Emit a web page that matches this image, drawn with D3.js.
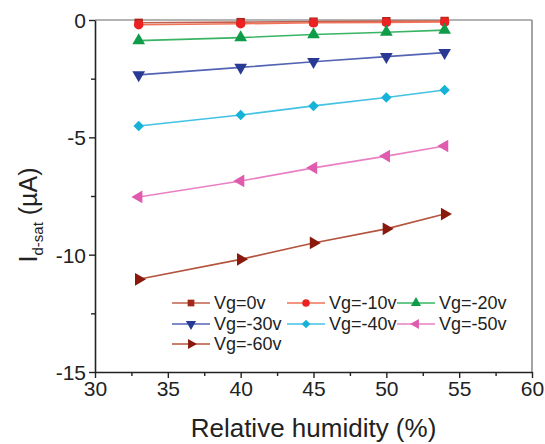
<!DOCTYPE html>
<html>
<head>
<meta charset="utf-8">
<script src="https://cdn.jsdelivr.net/npm/d3@7"></script>
<style>
  body { margin: 0; background: #fff; }
  text { font-family: "Liberation Sans", Arial, sans-serif; }
</style>
</head>
<body>
<svg id="chart" width="545" height="444"></svg>
<script>
// humidity points
const humidity = [33, 40, 45, 50, 54];

// Id-sat (uA) per gate voltage
const vg0 = [-0.12, -0.09, -0.07, -0.05, -0.04];
const vg10 = [-0.2, -0.16, -0.12, -0.1, -0.08];
const vg20 = [-0.88, -0.75, -0.62, -0.52, -0.43];
const vg30 = [-2.34, -2.02, -1.78, -1.56, -1.39];
const vg40 = [-4.52, -4.05, -3.66, -3.3, -2.98];
const vg50 = [-7.54, -6.86, -6.3, -5.8, -5.37];
const vg60 = [-11.05, -10.2, -9.5, -8.9, -8.27];

const seriesNames = ["Vg=0v", "Vg=-10v", "Vg=-20v", "Vg=-30v", "Vg=-40v", "Vg=-50v", "Vg=-60v"];
const xTicks = [30, 35, 40, 45, 50, 55, 60];
const yTicks = [0, -5, -10, -15];

const series = [
  { name: seriesNames[0], values: vg0, marker: "#a3281c", line: "#c0604c", shape: "square" },
  { name: seriesNames[1], values: vg10, marker: "#ec2222", line: "#f07258", shape: "circle" },
  { name: seriesNames[2], values: vg20, marker: "#0e9c48", line: "#38b464", shape: "up" },
  { name: seriesNames[3], values: vg30, marker: "#283a94", line: "#5464b4", shape: "down" },
  { name: seriesNames[4], values: vg40, marker: "#16b2d8", line: "#44c2e4", shape: "diamond" },
  { name: seriesNames[5], values: vg50, marker: "#e05aae", line: "#ea80c4", shape: "left" },
  { name: seriesNames[6], values: vg60, marker: "#8a180c", line: "#b4543e", shape: "right" }
];

const margin = { top: 20, right: 13, bottom: 72, left: 95 };
const width = 545 - margin.left - margin.right,
  height = 444 - margin.top - margin.bottom;

const svg = d3.select("#chart");
const g = svg.append("g").attr("transform", `translate(${margin.left},${margin.top})`);

const x = d3.scaleLinear().domain([30, 60]).range([0, width]);
const y = d3.scaleLinear().domain([-15, 0]).range([height, 0]);

// frame on top and right
g.append("line").attr("x1", 0).attr("x2", width).attr("y1", 0).attr("y2", 0)
  .attr("stroke", "#9a9a9a").attr("stroke-width", 1.6);
g.append("line").attr("x1", width).attr("x2", width).attr("y1", 0).attr("y2", height)
  .attr("stroke", "#9a9a9a").attr("stroke-width", 1.8);

// minor ticks
const xMinor = d3.range(32.5, 60, 5);
const yMinor = d3.range(-2.5, -15, -5);
g.append("g").attr("transform", `translate(0,${height})`)
  .call(d3.axisBottom(x).tickValues(xMinor).tickSize(4).tickFormat(""))
  .call(a => a.select(".domain").remove())
  .selectAll("line").attr("stroke", "#222").attr("stroke-width", 1.4);
g.append("g")
  .call(d3.axisLeft(y).tickValues(yMinor).tickSize(4).tickFormat(""))
  .call(a => a.select(".domain").remove())
  .selectAll("line").attr("stroke", "#222").attr("stroke-width", 1.4);

// axes
const xAxis = g.append("g").attr("transform", `translate(0,${height})`)
  .call(d3.axisBottom(x).tickValues(xTicks).tickSize(6).tickSizeOuter(0).tickPadding(3));
const yAxis = g.append("g")
  .call(d3.axisLeft(y).tickValues(yTicks).tickSize(6).tickSizeOuter(0).tickPadding(3)
    .tickFormat(d => d));
[xAxis, yAxis].forEach(a => {
  a.select(".domain").attr("stroke", "#222").attr("stroke-width", 1.6);
  a.selectAll(".tick line").attr("stroke", "#222").attr("stroke-width", 1.4);
  a.selectAll(".tick text").attr("fill", "#222").style("font-size", "21px")
    .style("font-family", "'Liberation Sans', Arial, sans-serif");
});
yAxis.selectAll(".tick text").attr("dy", "0.36em");

// axis titles
svg.append("text")
  .attr("x", margin.left + width / 2).attr("y", 437)
  .attr("text-anchor", "middle").attr("fill", "#222")
  .style("font-size", "26px")
  .text("Relative humidity (%)");

const yTitle = svg.append("text")
  .attr("transform", `translate(37,${margin.top + 195}) rotate(-90)`)
  .attr("text-anchor", "middle").attr("fill", "#222")
  .style("font-size", "25px");
yTitle.append("tspan").text("I");
yTitle.append("tspan").attr("dy", 6).style("font-size", "15px").text("d-sat");
yTitle.append("tspan").attr("dy", -6).text(" (\u00b5A)");

// marker builder
function symbolPath(shape, size) {
  const map = {
    square: d3.symbolSquare, circle: d3.symbolCircle, up: d3.symbolTriangle,
    down: d3.symbolTriangle, left: d3.symbolTriangle, right: d3.symbolTriangle,
    diamond: d3.symbolSquare
  };
  return d3.symbol().type(map[shape]).size(size)();
}
const rot = { up: 0, down: 180, left: -90, right: 90, square: 0, circle: 0, diamond: 45 };

const line = d3.line().x((d, i) => x(humidity[i])).y(d => y(d));

series.forEach(s => {
  g.append("path").datum(s.values)
    .attr("d", line).attr("fill", "none")
    .attr("stroke", s.line).attr("stroke-width", 1.6);
  g.selectAll(null).data(s.values).enter().append("path")
    .attr("d", symbolPath(s.shape, s.shape === "diamond" ? 55 : 70))
    .attr("transform", (d, i) => `translate(${x(humidity[i])},${y(d)}) rotate(${rot[s.shape]})`)
    .attr("fill", s.marker);
});

// legend
const legCols = [172, 287, 397];
const legRows = [303, 324, 344];
series.forEach((s, i) => {
  const lx = legCols[i % 3], ly = legRows[Math.floor(i / 3)];
  const lg = svg.append("g").attr("transform", `translate(${lx},${ly})`);
  lg.append("line").attr("x1", 0).attr("x2", 38).attr("y1", 0).attr("y2", 0)
    .attr("stroke", s.line).attr("stroke-width", 1.6);
  lg.append("path").attr("d", symbolPath(s.shape, s.shape === "diamond" ? 36 : 45))
    .attr("transform", `translate(19,0) rotate(${rot[s.shape]})`)
    .attr("fill", s.marker);
  lg.append("text").attr("x", 42).attr("y", 0).attr("dy", "0.36em")
    .attr("fill", "#222").style("font-size", "18px").text(s.name);
});
</script>
</body>
</html>
